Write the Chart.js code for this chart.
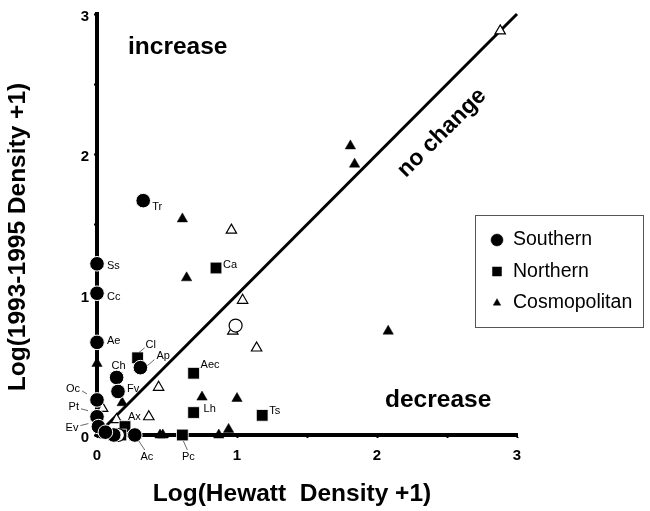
<!DOCTYPE html>
<html>
<head>
<meta charset="utf-8">
<script src="https://cdn.jsdelivr.net/npm/chart.js@4.4.1/dist/chart.umd.min.js"></script>
<style>
  html, body { margin: 0; padding: 0; background: #fff; }
  canvas { display: block; }
</style>
</head>
<body>
<canvas id="chart" width="650" height="511"></canvas>
<script>
const FONT = '"Liberation Sans", Arial, Helvetica, sans-serif';

// Southern species (filled circles)
const southernNames = ['Tr', 'Ss', 'Cc', 'Ae', 'Ch', 'Fv', 'Ap', 'Oc', 'Pt', 'Ev', 'Ac', '', ''];
const southernX = [0.33, 0, 0, 0, 0.14, 0.15, 0.31, 0, 0, 0.01, 0.27, 0.12, 0.06];
const southernY = [1.67, 1.22, 1.01, 0.66, 0.41, 0.31, 0.48, 0.25, 0.13, 0.06, 0, 0, 0.02];

// Southern species, open symbols
const southernOpenX = [0.99, 0.15];
const southernOpenY = [0.78, 0];

// Northern species (filled squares)
const northernNames = ['Ca', 'Cl', 'Aec', 'Lh', 'Ts', 'Pc', '', ''];
const northernX = [0.85, 0.29, 0.69, 0.69, 1.18, 0.61, 0.20, 0.17];
const northernY = [1.19, 0.55, 0.44, 0.16, 0.14, 0, 0.06, 0];

// Cosmopolitan species (filled triangles)
const cosmoX = [1.81, 1.84, 0.61, 0.64, 2.08, 0, 0.75, 1.00, 0.94, 0.87, 0.45, 0.47, 0.18, 0.05];
const cosmoY = [2.06, 1.93, 1.54, 1.12, 0.74, 0.51, 0.27, 0.26, 0.04, 0, 0, 0, 0.23, 0];

// Cosmopolitan species, open symbols
const cosmoOpenNames = ['', '', '', '', '', '', 'Ax', '', '', '', ''];
const cosmoOpenX = [2.88, 0.96, 1.04, 0.97, 1.14, 0.44, 0.37, 0.14, 0.04, 0.07, 0.13];
const cosmoOpenY = [2.88, 1.46, 0.96, 0.74, 0.62, 0.34, 0.13, 0.11, 0.19, 0, 0];

// 1:1 reference line
const lineX = [0, 3];
const lineY = [0, 3];

const tickLabels = ['0', '1', '2', '3'];

// Placement of species codes next to their symbols (px offsets, optional leader line)
const labelStyle = {
  Tr:  { dx: 9,   dy: 6,   align: 'left' },
  Ss:  { dx: 10,  dy: 2,   align: 'left' },
  Cc:  { dx: 10,  dy: 4,   align: 'left' },
  Ae:  { dx: 10,  dy: -1,  align: 'left' },
  Ch:  { dx: -5,  dy: -11, align: 'left' },
  Fv:  { dx: 9,   dy: -3,  align: 'left' },
  Cl:  { dx: 8,   dy: -13, align: 'left',   lead: [1, -5, 7, -10] },
  Ap:  { dx: 16,  dy: -12, align: 'left',   lead: [7, -2, 14, -8] },
  Oc:  { dx: -17, dy: -11, align: 'right',  lead: [-15, -9, -10, -6] },
  Pt:  { dx: -18, dy: -10, align: 'right',  lead: [-16, -8, -9, -6] },
  Ev:  { dx: -20, dy: 1,   align: 'right',  lead: [-18, -1, -10, -3] },
  Ac:  { dx: 12,  dy: 22,  align: 'center', lead: [4, 6, 10, 15] },
  Ax:  { dx: -8,  dy: 0,   align: 'right' },
  Pc:  { dx: 6,   dy: 22,  align: 'center', lead: [1, 6, 5, 15] },
  Aec: { dx: 7,   dy: -8,  align: 'left' },
  Lh:  { dx: 10,  dy: -4,  align: 'left' },
  Ts:  { dx: 7,   dy: -4,  align: 'left' },
  Ca:  { dx: 7,   dy: -3,  align: 'left' }
};

const pts = (xs, ys) => xs.map((x, i) => ({ x: x, y: ys[i] }));

const datasets = [
  {
    label: 'no change', type: 'line', data: pts(lineX, lineY),
    borderColor: '#000', borderWidth: 3, pointRadius: 0, fill: false, order: 10, clip: false
  },
  {
    label: 'Southern', data: pts(southernX, southernY), names: southernNames,
    pointStyle: 'circle', pointRadius: 7.3, backgroundColor: '#000', borderColor: '#fff', borderWidth: 1,
    legend: true, clip: false
  },
  {
    label: 'Southern (open)', data: pts(southernOpenX, southernOpenY),
    pointStyle: 'circle', pointRadius: 6.5, backgroundColor: '#fff', borderColor: '#000', borderWidth: 1.2,
    clip: false
  },
  {
    label: 'Northern', data: pts(northernX, northernY), names: northernNames,
    pointStyle: 'rect', pointRadius: 8.3, backgroundColor: '#000', borderColor: '#fff', borderWidth: 0.8,
    legend: true, clip: false
  },
  {
    label: 'Cosmopolitan', data: pts(cosmoX, cosmoY),
    pointStyle: 'triangle', pointRadius: 6, backgroundColor: '#000', borderColor: '#000', borderWidth: 0.5,
    legend: true, clip: false
  },
  {
    label: 'Cosmopolitan (open)', data: pts(cosmoOpenX, cosmoOpenY), names: cosmoOpenNames,
    pointStyle: 'triangle', pointRadius: 6, backgroundColor: '#fff', borderColor: '#000', borderWidth: 1.2,
    clip: false
  }
];

// Titles, region notes, species codes and legend box
const decorations = {
  id: 'decorations',
  afterDraw(chart) {
    const ctx = chart.ctx;
    const xs = chart.scales.x, ys = chart.scales.y;
    ctx.save();
    ctx.fillStyle = '#000';
    ctx.textBaseline = 'middle';

    // axis titles
    ctx.font = 'bold 24.5px ' + FONT;
    ctx.textAlign = 'center';
    ctx.fillText('Log(Hewatt  Density +1)', 292, 494);
    ctx.save();
    ctx.translate(18, 237);
    ctx.rotate(-Math.PI / 2);
    ctx.fillText('Log(1993-1995 Density +1)', 0, 0);
    ctx.restore();

    // region notes
    ctx.textAlign = 'left';
    ctx.fillText('increase', 128, 47);
    ctx.fillText('decrease', 385, 400);
    ctx.save();
    ctx.translate(442, 133);
    ctx.rotate(-Math.PI / 4);
    ctx.textAlign = 'center';
    ctx.font = 'bold 23px ' + FONT;
    ctx.fillText('no change', 0, 0);
    ctx.restore();

    // species codes
    ctx.font = '11px ' + FONT;
    chart.data.datasets.forEach(ds => {
      if (!ds.names) return;
      ds.data.forEach((p, i) => {
        const name = ds.names[i];
        const st = labelStyle[name];
        if (!name || !st) return;
        const px = xs.getPixelForValue(p.x), py = ys.getPixelForValue(p.y);
        if (st.lead) {
          ctx.strokeStyle = '#444';
          ctx.lineWidth = 0.8;
          ctx.beginPath();
          ctx.moveTo(px + st.lead[0], py + st.lead[1]);
          ctx.lineTo(px + st.lead[2], py + st.lead[3]);
          ctx.stroke();
        }
        ctx.textAlign = st.align;
        ctx.fillText(name, px + st.dx, py + st.dy);
      });
    });

    // legend
    const box = { x: 475.5, y: 215.5, w: 168, h: 112 };
    ctx.strokeStyle = '#555';
    ctx.lineWidth = 1;
    ctx.strokeRect(box.x, box.y, box.w, box.h);
    ctx.font = '19.5px ' + FONT;
    ctx.textAlign = 'left';
    const entries = chart.data.datasets.filter(d => d.legend);
    const legendSize = { circle: 6, rect: 6.4, triangle: 4.3 };
    entries.forEach((d, k) => {
      const cy = 240 + k * 31.5;
      ctx.fillStyle = '#000';
      ctx.strokeStyle = '#000';
      ctx.lineWidth = 0.5;
      Chart.helpers.drawPoint(ctx, { pointStyle: d.pointStyle, radius: legendSize[d.pointStyle], borderWidth: 0.5, rotation: 0 }, 497, cy);
      ctx.fillText(d.label, 513, cy);
    });
    ctx.restore();
  }
};

new Chart(document.getElementById('chart'), {
  type: 'scatter',
  data: { datasets: datasets },
  options: {
    responsive: false,
    animation: false,
    layout: { padding: { left: 0, top: 13, right: 133, bottom: 0 } },
    plugins: { legend: { display: false }, tooltip: { enabled: false } },
    scales: {
      x: {
        type: 'linear', min: 0, max: 3,
        afterFit: s => { s.height = 76; },
        border: { display: true, color: '#000', width: 4 },
        grid: { display: true, drawOnChartArea: false, drawTicks: true, tickLength: 3, tickWidth: 2, tickColor: '#000' },
        ticks: {
          stepSize: 0.5, padding: 9, color: '#000',
          font: { family: FONT, size: 15, weight: 'bold' },
          callback: v => Number.isInteger(v) ? tickLabels[v] : ''
        }
      },
      y: {
        type: 'linear', min: 0, max: 3,
        afterFit: s => { s.width = 97; },
        border: { display: true, color: '#000', width: 4 },
        grid: { display: true, drawOnChartArea: false, drawTicks: true, tickLength: 3, tickWidth: 2, tickColor: '#000' },
        ticks: {
          stepSize: 0.5, padding: 5, labelOffset: 3, color: '#000',
          font: { family: FONT, size: 15, weight: 'bold' },
          callback: v => Number.isInteger(v) ? tickLabels[v] : ''
        }
      }
    }
  },
  plugins: [decorations]
});
</script>
</body>
</html>
